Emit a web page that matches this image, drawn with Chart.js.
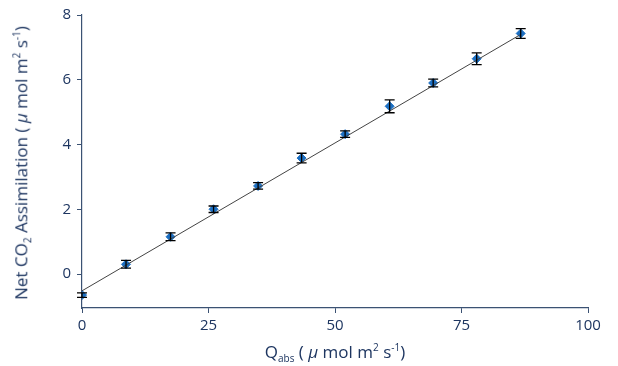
<!DOCTYPE html>
<html>
<head>
<meta charset="utf-8">
<script src="https://cdn.jsdelivr.net/npm/chart.js@4"></script>
<style>
  body { margin: 0; background: #fff; }
  #wrap { position: relative; width: 618px; height: 366px; }
  .ttl { position: absolute; font-family: "Open Sans", "Noto Sans", sans-serif; color: #1d3560; font-size: 17px; white-space: nowrap; }
  .ttl sub, .ttl sup { font-size: 10px; }
  #xtitle { left: 0; width: 670px; top: 340px; text-align: center; }
  #ytitle { left: 22px; top: 163px; transform: translate(-50%, -50%) rotate(-90deg); }
</style>
</head>
<body>
<div id="wrap">
  <canvas id="chart" width="618" height="366"></canvas>
  <div id="xtitle" class="ttl">Q<sub>abs</sub> ( <i>μ</i> mol m<sup>2</sup> s<sup>-1</sup>)</div>
  <div id="ytitle" class="ttl">Net CO<sub>2</sub> Assimilation ( <i>μ</i> mol m<sup>2</sup> s<sup>-1</sup>)</div>
</div>
<script>
// Datos
const qAbs = [0, 8.7, 17.5, 26, 34.8, 43.4, 52, 60.8, 69.4, 78, 86.7];
const netCO2 = [-0.65, 0.3, 1.15, 2.0, 2.72, 3.58, 4.32, 5.18, 5.9, 6.65, 7.43];
const errCO2 = [0.07, 0.12, 0.12, 0.1, 0.1, 0.15, 0.1, 0.2, 0.12, 0.18, 0.15];
const fitX = [0, 86.7];
const fitY = [-0.52, 7.4];
const xTicks = [0, 25, 50, 75, 100];
const yTicks = [0, 2, 4, 6, 8];

const axisColor = "#3b5273";
const labelColor = "#1d3560";

// Plugin para dibujar las barras de error
const errorBars = {
    id: "errorBars",
    afterDatasetsDraw(chart) {
        const ctx = chart.ctx;
        const xs = chart.scales.x;
        const ys = chart.scales.y;
        ctx.save();
        ctx.strokeStyle = "#000";
        ctx.lineWidth = 1.3;
        qAbs.forEach((q, i) => {
            const px = xs.getPixelForValue(q);
            const top = ys.getPixelForValue(netCO2[i] + errCO2[i]);
            const bot = ys.getPixelForValue(netCO2[i] - errCO2[i]);
            ctx.beginPath();
            ctx.moveTo(px, top); ctx.lineTo(px, bot);
            ctx.moveTo(px - 5, top); ctx.lineTo(px + 5, top);
            ctx.moveTo(px - 5, bot); ctx.lineTo(px + 5, bot);
            ctx.stroke();
        });
        ctx.restore();
    }
};

const chart = new Chart(document.getElementById("chart"), {
    type: "scatter",
    data: {
        datasets: [{
            label: "Net CO2",
            data: qAbs.map((q, i) => ({ x: q, y: netCO2[i] })),
            pointStyle: "rectRot",
            pointRadius: 4.5,
            backgroundColor: "#1c6fc2",
            borderColor: "#1c6fc2",
            order: 2
        }, {
            label: "Fit",
            type: "line",
            data: fitX.map((x, i) => ({ x: x, y: fitY[i] })),
            borderColor: "#444",
            borderWidth: 1,
            pointRadius: 0,
            fill: false,
            order: 1
        }]
    },
    options: {
        responsive: false,
        animation: false,
        layout: { padding: { top: 15, right: 30, left: 0, bottom: 0 } },
        plugins: { legend: { display: false }, tooltip: { enabled: false } },
        scales: {
            x: {
                type: "linear",
                min: 0, max: 100,
                afterBuildTicks: s => { s.ticks = xTicks.map(v => ({ value: v })); },
                afterFit: s => { s.height = 58; },
                border: { display: true, color: axisColor, width: 1.2 },
                grid: { drawOnChartArea: false, drawTicks: true, tickLength: 5, color: axisColor },
                ticks: { color: labelColor, padding: 4, font: { family: "Open Sans", size: 15, weight: "500" } }
            },
            y: {
                type: "linear",
                min: -1.05, max: 8,
                afterBuildTicks: s => { s.ticks = yTicks.map(v => ({ value: v })); },
                afterFit: s => { s.width = 82; },
                border: { display: true, color: axisColor, width: 1.2 },
                grid: { drawOnChartArea: false, drawTicks: true, tickLength: 5, color: axisColor },
                ticks: { color: labelColor, padding: 6, font: { family: "Open Sans", size: 15, weight: "500" } }
            }
        }
    },
    plugins: [errorBars]
});
</script>
</body>
</html>
